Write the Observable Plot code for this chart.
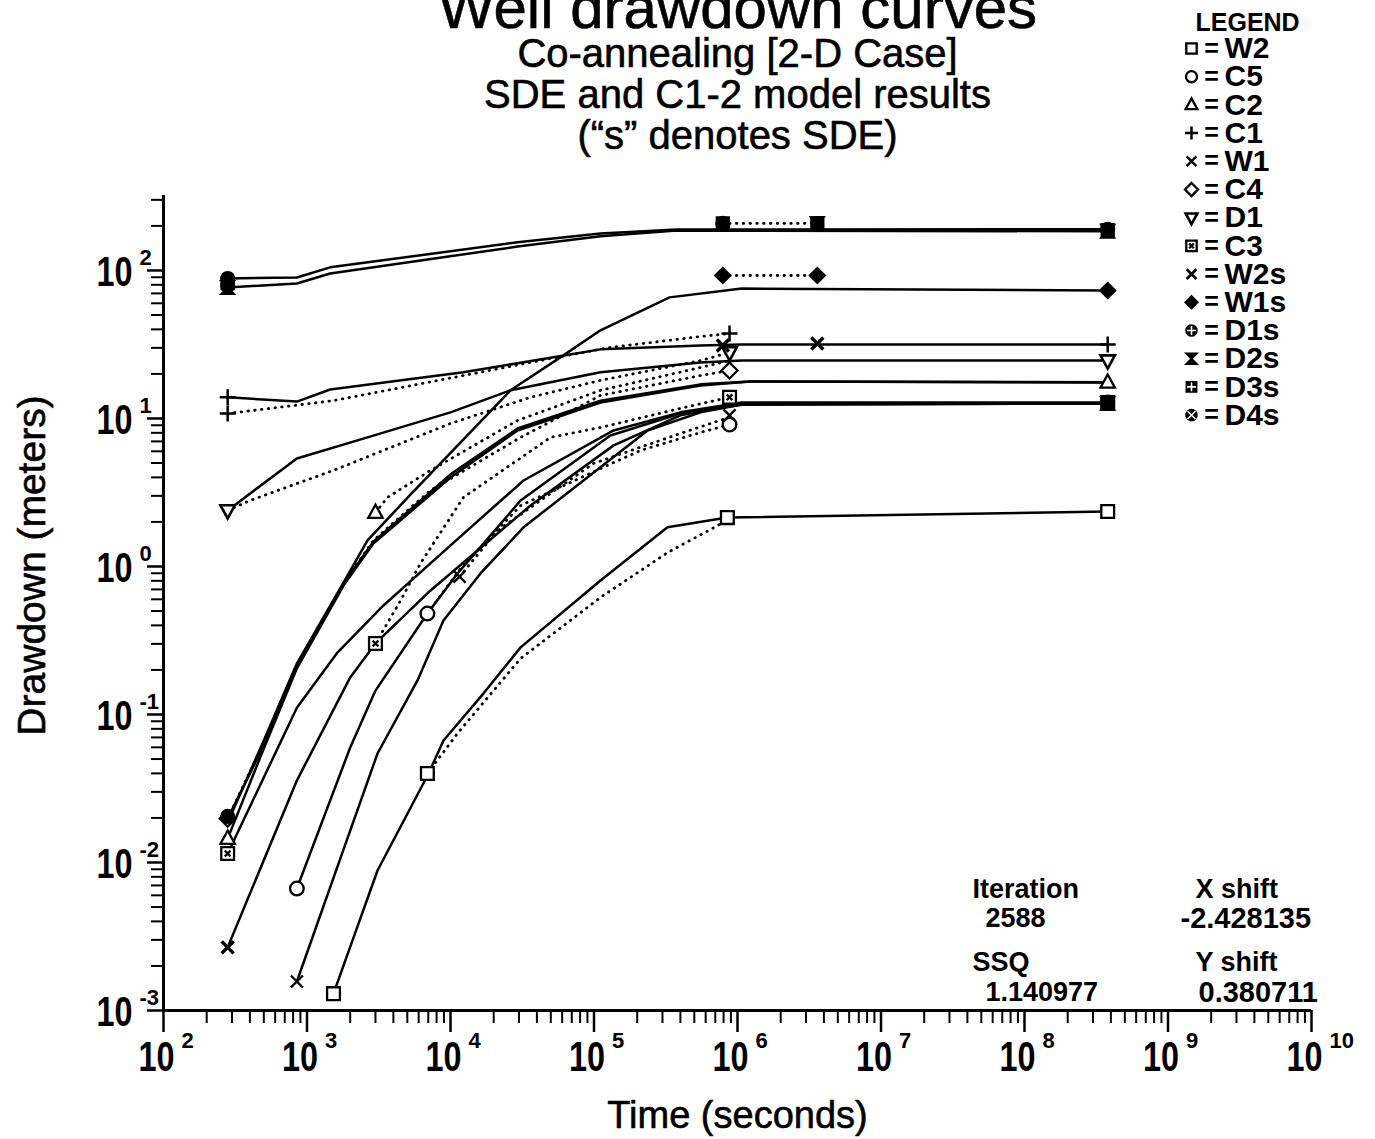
<!DOCTYPE html>
<html>
<head>
<meta charset="utf-8">
<script src="https://cdn.jsdelivr.net/npm/d3@7"></script>
<script src="https://cdn.jsdelivr.net/npm/@observablehq/plot@0.6"></script>
<style>
  html, body { margin: 0; padding: 0; background: #fff; }
  #chart { position: relative; width: 1375px; height: 1139px; overflow: hidden; }
</style>
</head>
<body>
<div id="chart"></div>
<script>
// ---------------- data (time in seconds, drawdown in meters) ----------------
// solid model curves
const solidDUpper = [[280, 88.3], [850, 89.7], [1450, 105], [29300, 155], [111000, 178], [376000, 189], [3.8e8, 190]];
const solidDLower = [[280, 76.7], [850, 81.7], [1450, 95.4], [29300, 145], [111000, 170], [376000, 186], [3.8e8, 184]];
const solidW1s = [[280, 0.0186], [500, 0.0667], [850, 0.221], [1800, 0.78], [2640, 1.5], [5260, 3.06], [26200, 15.5], [61200, 26.7], [111000, 39.4], [336000, 65.8], [1.07e6, 75.5], [3.8e8, 73.2]];
const solidC1 = [[280, 13.9], [850, 13.0], [1450, 15.7], [12300, 20.5], [111000, 29.3], [552000, 31.1], [1.07e6, 31.6], [3.8e8, 31.6]];
const solidD1 = [[280, 2.39], [850, 5.37], [2640, 7.45], [10000, 11.0], [26200, 15.5], [111000, 20.5], [552000, 23.9], [1.07e6, 24.6], [3.8e8, 24.6]];
const solidC2 = [[280, 0.0145], [500, 0.0589], [850, 0.205], [1800, 0.745], [2900, 1.43], [10000, 3.99], [29300, 8.3], [111000, 12.8], [552000, 16.7], [1.23e6, 17.8], [3.8e8, 17.5]];
const solidC4 = [[280, 0.0198], [500, 0.0618], [850, 0.211], [1800, 0.767], [2900, 1.47], [10000, 4.19], [29300, 8.55], [111000, 13.2], [552000, 17.0], [1.23e6, 17.8], [3.8e8, 17.6]];
const solidC3 = [[280, 0.0115], [850, 0.111], [1630, 0.262], [3410, 0.545], [10000, 1.39], [32300, 3.81], [137000, 8.3], [400000, 11.0], [1.07e6, 12.8], [3.8e8, 12.8]];
const solidW2s = [[280, 0.00267], [850, 0.0358], [2000, 0.178], [3000, 0.302], [7260, 0.689], [36100, 2.58], [137000, 6.58], [400000, 10.5], [1.07e6, 12.6], [3.8e8, 12.6]];
const solidC5 = [[850, 0.00667], [2000, 0.0598], [3000, 0.145], [6900, 0.481], [11190, 0.897], [30800, 2.79], [130000, 7.67], [400000, 10.8], [1.07e6, 12.4], [3.8e8, 12.6]];
const solidW1 = [[850, 0.00157], [2000, 0.0164], [3100, 0.0545], [5890, 0.17], [8930, 0.431], [16180, 0.897], [32300, 1.84], [236000, 8.3], [552000, 11.0], [1.07e6, 12.4], [3.8e8, 12.6]];
const solidW2 = [[1530, 0.0013], [3100, 0.00883], [6920, 0.0387], [8940, 0.0667], [17000, 0.139], [30800, 0.284], [111000, 0.803], [325000, 1.84], [850000, 2.14], [3.8e8, 2.35]];

// dotted curves
const dotD = [[790000, 208], [3.6e6, 208]];
const dotW1s = [[790000, 92.5], [3.6e6, 92.5]];
const dotC1 = [[280, 10.8], [1530, 13.2], [12300, 19.5], [49800, 25.4], [130000, 30.2], [552000, 35.8], [880000, 37.5]];
const dotD1 = [[280, 2.39], [400, 2.79], [1530, 4.46], [10000, 9.25], [36100, 13.9], [111000, 18.1], [552000, 24.6], [880000, 27.9]];
const dotC2 = [[3000, 2.31], [3640, 2.93], [7260, 4.46], [29300, 9.69], [111000, 15.5], [552000, 22.1], [880000, 24.6]];
const dotC4 = [[280, 0.0198], [500, 0.0647], [850, 0.218], [1800, 0.767], [2900, 1.5], [7260, 3.27], [30800, 7.45], [111000, 14.3], [552000, 19.5], [880000, 21.1]];
const dotC3 = [[3000, 0.302], [4490, 0.589], [6180, 1.05], [12300, 2.93], [49800, 7.45], [111000, 8.69], [400000, 11.7], [880000, 13.9]];
const dotW1 = [[11560, 0.855], [21300, 1.75], [99300, 4.97], [400000, 7.92], [880000, 10.2]];
const dotC5 = [[6900, 0.481], [11750, 0.968], [30800, 2.58], [111000, 4.59], [211000, 6.08], [552000, 8.04], [880000, 9.1]];
const dotW2 = [[6900, 0.0399], [11190, 0.0745], [30800, 0.239], [111000, 0.618], [325000, 1.24], [850000, 2.05]];

// markers
const mkW2 = [[1530, 0.0013], [6900, 0.0399], [850000, 2.14], [3.8e8, 2.35]];
const mkC5 = [[850, 0.00667], [6900, 0.481], [880000, 9.1]];
const mkC2 = [[280, 0.0145], [3000, 2.31], [3.8e8, 17.5]];
const mkC1 = [[280, 13.9], [280, 10.8], [880000, 37.5], [3.8e8, 31.6]];
const mkW1 = [[850, 0.00157], [11560, 0.855], [880000, 10.5]];
const mkC4 = [[280, 0.0198], [880000, 21.1]];
const mkD1 = [[280, 2.39], [880000, 27.9], [3.8e8, 24.6]];
const mkC3 = [[280, 0.0115], [3000, 0.302], [880000, 13.9], [3.8e8, 12.8]];
const mkW2s = [[280, 0.00267], [790000, 31.1], [3.6e6, 32.1]];
const mkW1s = [[790000, 92.5], [3.6e6, 92.5], [3.8e8, 73.2]];
const mkD1s = [[280, 88.3], [790000, 208], [3.8e8, 190], [280, 0.0205]];
const mkD2s = [[280, 76.7], [3.6e6, 208], [3.8e8, 184], [3.8e8, 12.6]];
const mkD3s = [[280, 82.0], [790000, 208], [3.6e6, 208], [3.8e8, 187]];
const mkD4s = [[280, 79.0], [3.8e8, 12.9]];

// axes / text
const xMajor = [1e2, 1e3, 1e4, 1e5, 1e6, 1e7, 1e8, 1e9, 1e10];
const xExp = ["2", "3", "4", "5", "6", "7", "8", "9", "10"];
const yMajor = [1e-3, 1e-2, 1e-1, 1e0, 1e1, 1e2];
const yExp = ["-3", "-2", "-1", "0", "1", "2"];
const titleLines = ["Well drawdown curves", "Co-annealing [2-D Case]", "SDE and C1-2 model results", "(\u201Cs\u201D denotes SDE)"];
const legendNames = ["W2", "C5", "C2", "C1", "W1", "C4", "D1", "C3", "W2s", "W1s", "D1s", "D2s", "D3s", "D4s"];
const annLabels = ["Iteration", "SSQ", "X shift", "Y shift"];
const annValues = ["2588", "1.140977", "-2.428135", "0.380711"];

// ---------------- styles ----------------
const FONT = '"Liberation Sans", Arial, Helvetica, sans-serif';
const ML = 163, MT = 195;
const at = (px, py) => ({frameAnchor: "top-left", dx: px - ML, dy: py - MT});

const Rr = s => Math.sqrt(s / Math.PI);
const sym = {
  square: {draw(c, s) { const r = Rr(s) * 0.8; c.moveTo(-r, -r); c.lineTo(r, -r); c.lineTo(r, r); c.lineTo(-r, r); c.closePath(); }},
  circle: {draw(c, s) { const r = Rr(s) * 0.85; c.moveTo(r, 0); c.arc(0, 0, r, 0, 2 * Math.PI); }},
  triangle: {draw(c, s) { const r = Rr(s); c.moveTo(0, -r); c.lineTo(r * 0.9, r * 0.65); c.lineTo(-r * 0.9, r * 0.65); c.closePath(); }},
  triangleDown: {draw(c, s) { const r = Rr(s); c.moveTo(0, r); c.lineTo(r * 0.9, -r * 0.65); c.lineTo(-r * 0.9, -r * 0.65); c.closePath(); }},
  plus: {draw(c, s) { const r = Rr(s); c.moveTo(-r, 0); c.lineTo(r, 0); c.moveTo(0, -r); c.lineTo(0, r); }},
  times: {draw(c, s) { const r = Rr(s) * 0.75; c.moveTo(-r, -r); c.lineTo(r, r); c.moveTo(r, -r); c.lineTo(-r, r); }},
  diamond: {draw(c, s) { const r = Rr(s); c.moveTo(0, -r); c.lineTo(r, 0); c.lineTo(0, r); c.lineTo(-r, 0); c.closePath(); }},
  boxTimes: {draw(c, s) { const r = Rr(s) * 0.8, q = r * 0.45; c.moveTo(-r, -r); c.lineTo(r, -r); c.lineTo(r, r); c.lineTo(-r, r); c.closePath(); c.moveTo(-q, -q); c.lineTo(q, q); c.moveTo(q, -q); c.lineTo(-q, q); }},
  hourglass: {draw(c, s) { const r = Rr(s) * 0.8; c.moveTo(-r, -r); c.lineTo(r, -r); c.lineTo(-r, r); c.lineTo(r, r); c.closePath(); }}
};
const ST = {
  W2: {symbol: sym.square, fill: "white", stroke: "black", strokeWidth: 2.3},
  C5: {symbol: sym.circle, fill: "white", stroke: "black", strokeWidth: 2.3},
  C2: {symbol: sym.triangle, fill: "white", stroke: "black", strokeWidth: 2.3},
  C1: {symbol: sym.plus, fill: "none", stroke: "black", strokeWidth: 2.5},
  W1: {symbol: sym.times, fill: "none", stroke: "black", strokeWidth: 2.4},
  C4: {symbol: sym.diamond, fill: "white", stroke: "black", strokeWidth: 2.3},
  D1: {symbol: sym.triangleDown, fill: "white", stroke: "black", strokeWidth: 2.6},
  C3: {symbol: sym.boxTimes, fill: "white", stroke: "black", strokeWidth: 2.3},
  W2s: {symbol: sym.times, fill: "none", stroke: "black", strokeWidth: 3.4},
  W1s: {symbol: sym.diamond, fill: "black", stroke: "black", strokeWidth: 1.5},
  D1s: {symbol: sym.circle, fill: "black", stroke: "black", strokeWidth: 1.5},
  D2s: {symbol: sym.hourglass, fill: "black", stroke: "black", strokeWidth: 2},
  D3s: {symbol: sym.square, fill: "black", stroke: "black", strokeWidth: 1.5},
  D4s: {symbol: sym.circle, fill: "black", stroke: "black", strokeWidth: 1.5}
};
const legendOverlay = {D1s: {symbol: sym.plus, r: 4.4}, D3s: {symbol: sym.plus, r: 4.4}, D4s: {symbol: sym.times, r: 5.2}};

const solidSeries = {DUpper: solidDUpper, DLower: solidDLower, W1s: solidW1s, C1: solidC1, D1: solidD1, C2: solidC2, C4: solidC4,
  C3: solidC3, W2s: solidW2s, C5: solidC5, W1: solidW1, W2: solidW2};
const dottedSeries = {D: dotD, W1s: dotW1s, C1: dotC1, D1: dotD1, C2: dotC2, C4: dotC4, C3: dotC3, W1: dotW1, C5: dotC5, W2: dotW2};
const markerSeries = {W2: mkW2, C5: mkC5, C2: mkC2, C1: mkC1, W1: mkW1, C4: mkC4, D1: mkD1, C3: mkC3,
  W2s: mkW2s, W1s: mkW1s, D1s: mkD1s, D2s: mkD2s, D3s: mkD3s, D4s: mkD4s};

const toRows = obj => Object.entries(obj).flatMap(([name, pts]) => pts.map(([t, v]) => ({name, t, v})));
const solidRows = toRows(solidSeries);
const dottedRows = toRows(dottedSeries);

const xMinor = xMajor.slice(0, -1).flatMap(d => [2, 3, 4, 5, 6, 7, 8, 9].map(k => k * d));
const yMinor = yMajor.flatMap(d => [2, 3, 4, 5, 6, 7, 8, 9].map(k => k * d)).filter(v => v < 321);

const heavy = {fill: "black", stroke: "black", strokeWidth: 0.6};
const marks = [
  // axes ticks
  Plot.axisX({ticks: xMinor, anchor: "bottom", tickSize: 13, tickFormat: () => "", label: null, strokeWidth: 2}),
  Plot.axisX({ticks: xMajor, anchor: "bottom", tickSize: 22, tickFormat: () => "", label: null, strokeWidth: 2.5}),
  Plot.axisY({ticks: yMinor, anchor: "left", tickSize: 12, tickFormat: () => "", label: null, strokeWidth: 2}),
  Plot.axisY({ticks: yMajor, anchor: "left", tickSize: 16, tickFormat: () => "", label: null, strokeWidth: 2.5}),
  Plot.ruleY([1e-3], {strokeWidth: 3}),
  Plot.ruleX([1e2], {strokeWidth: 3}),
  // tick labels
  Plot.text(xMajor, {x: d => d, frameAnchor: "bottom", dy: 47, dx: -7, text: () => "10", fontSize: 42, fontFamily: FONT, fontWeight: "bold", textAnchor: "middle", lineAnchor: "middle", ariaDescription: "ten"}),
  Plot.text(xMajor, {x: d => d, frameAnchor: "bottom", dy: 30, dx: 18, text: (d, i) => xExp[i], fontSize: 22, fontFamily: FONT, fontWeight: "bold", textAnchor: "start", lineAnchor: "middle"}),
  Plot.text(yMajor, {y: d => d, frameAnchor: "left", dx: -31, dy: 2, text: () => "10", fontSize: 42, fontFamily: FONT, fontWeight: "bold", textAnchor: "end", lineAnchor: "middle", ariaDescription: "ten"}),
  Plot.text(yMajor, {y: d => d, frameAnchor: "left", dx: -24, dy: -13, text: (d, i) => yExp[i], fontSize: 22, fontFamily: FONT, fontWeight: "bold", textAnchor: "start", lineAnchor: "middle"}),
  // axis titles
  Plot.text(["Time (seconds)"], {...at(737, 1115), fontSize: 38, fontFamily: FONT, textAnchor: "middle", lineAnchor: "middle", ...heavy}),
  Plot.text(["Drawdown (meters)"], {...at(32, 565), fontSize: 39, fontFamily: FONT, rotate: -90, textAnchor: "middle", lineAnchor: "middle", ...heavy}),
  // curves
  Plot.line(solidRows, {x: "t", y: "v", z: "name", stroke: "black", strokeWidth: 2.5}),
  Plot.line(dottedRows, {x: "t", y: "v", z: "name", stroke: "black", strokeWidth: 2.8, strokeDasharray: "0.5 6.3", strokeLinecap: "round"}),
  // markers
  ...Object.entries(markerSeries).map(([name, pts]) => Plot.dot(pts, {x: d => d[0], y: d => d[1], r: 8, ...ST[name]})),
  // titles
  ...titleLines.map((s, i) => Plot.text([s], {...at(737, [8, 54, 95, 136][i]), fontSize: i === 0 ? 60 : 40, fontFamily: FONT, textAnchor: "middle", lineAnchor: "middle", ...heavy})),
  // annotation
  ...annLabels.map((s, i) => Plot.text([s], {...at([972, 972, 1195, 1195][i], [889, 962, 889, 962][i]), fontSize: 27, fontWeight: "bold", fontFamily: FONT, textAnchor: "start", lineAnchor: "middle"})),
  ...annValues.map((s, i) => Plot.text([s], {...at([985, 985, 1180, 1198][i], [918, 992, 918, 992][i]), fontSize: [27, 27, 29, 29][i], fontWeight: "bold", fontFamily: FONT, textAnchor: "start", lineAnchor: "middle"})),
  // legend
  Plot.text(["LEGEND"], {...at(1195, 22), fontSize: 25, fontWeight: "bold", fontFamily: FONT, textAnchor: "start", lineAnchor: "middle"}),
  ...legendNames.flatMap((name, i) => {
    const y = 48 + i * 28.2;
    const out = [
      Plot.dot([0], {...at(1191, y), r: 6.5, ...ST[name], strokeWidth: Math.min(ST[name].strokeWidth, 2.6)}),
      Plot.text(["="], {...at(1211, y), fontSize: 25, fontWeight: "bold", fontFamily: FONT, textAnchor: "middle", lineAnchor: "middle"}),
      Plot.text([name], {...at(1224, y), fontSize: 30, fontWeight: "bold", fontFamily: FONT, textAnchor: "start", lineAnchor: "middle"})
    ];
    const ov = legendOverlay[name];
    if (ov) out.push(Plot.dot([0], {...at(1191, y), r: ov.r, symbol: ov.symbol, stroke: "white", fill: "none", strokeWidth: 1.6}));
    return out;
  })
];

const chart = Plot.plot({
  width: 1375, height: 1139,
  marginLeft: ML, marginRight: 64, marginTop: MT, marginBottom: 129,
  x: {type: "log", domain: [1e2, 1e10]},
  y: {type: "log", domain: [1e-3, 321]},
  style: {fontFamily: FONT, background: "white", color: "black", overflow: "visible"},
  marks
});
// condense the "10" of the tick labels, as in the reference's narrow lettering
chart.querySelectorAll('g[aria-description="ten"] text').forEach(t => {
  t.setAttribute("textLength", 36);
  t.setAttribute("lengthAdjust", "spacingAndGlyphs");
});
document.getElementById("chart").appendChild(chart);
</script>
</body>
</html>
